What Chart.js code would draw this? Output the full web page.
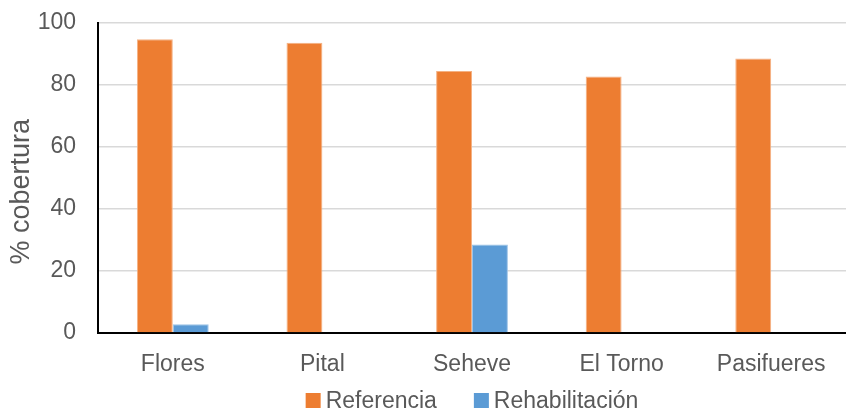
<!DOCTYPE html>
<html>
<head>
<meta charset="utf-8">
<script src="https://cdn.jsdelivr.net/npm/chart.js@4"></script>
<style>
  html, body { margin: 0; padding: 0; background: #fff; }
  #wrap { width: 846px; height: 409px; }
</style>
</head>
<body>
<div id="wrap"><canvas id="c" width="846" height="409"></canvas></div>
<script>
const sites = ['Flores', 'Pital', 'Seheve', 'El Torno', 'Pasifueres'];
const referencia = [94.6, 93.5, 84.4, 82.6, 88.4];
const rehabilitacion = [2.8, 0, 28.5, 0, 0];
const yTicks = [0, 20, 40, 60, 80, 100];
const yTitle = '% cobertura';

const FONT = '"Liberation Sans", Arial, sans-serif';
const GREY = '#595959';

// Legend row under the x labels and the rotated y-axis title, centred on the plot area
const sideText = {
  id: 'sideText',
  afterDraw(chart) {
    const { ctx, chartArea } = chart;
    ctx.save();
    ctx.fillStyle = GREY;
    ctx.font = '23px ' + FONT;
    ctx.textBaseline = 'alphabetic';
    const box = 15, gapText = 5, gapItem = 37;
    const items = chart.data.datasets.map(ds => ({ label: ds.label, color: ds.backgroundColor, w: ctx.measureText(ds.label).width }));
    const total = items.reduce((s, it) => s + box + gapText + it.w, 0) + gapItem * (items.length - 1);
    let x = (chartArea.left + chartArea.right) / 2 - total / 2;
    const baseY = 408;
    items.forEach(it => {
      ctx.fillStyle = it.color;
      ctx.fillRect(x, baseY - box, box, box);
      x += box + gapText;
      ctx.fillStyle = GREY;
      ctx.textAlign = 'left';
      ctx.fillText(it.label, x, baseY);
      x += it.w + gapItem;
    });

    ctx.font = '27px ' + FONT;
    ctx.translate(22, (chartArea.top + chartArea.bottom) / 2 + 14);
    ctx.rotate(-Math.PI / 2);
    ctx.textAlign = 'center';
    ctx.textBaseline = 'middle';
    ctx.fillText(yTitle, 0, 0);
    ctx.restore();
  }
};

new Chart(document.getElementById('c'), {
  type: 'bar',
  data: {
    labels: sites,
    datasets: [
      { label: 'Referencia', data: referencia, backgroundColor: '#ed7d31',
        borderColor: '#f4b183', borderWidth: {top: 1, left: 1, right: 1, bottom: 0},
        categoryPercentage: 0.48, barPercentage: 1.0 },
      { label: 'Rehabilitación', data: rehabilitacion, backgroundColor: '#5b9bd5',
        borderColor: '#9dc3e6', borderWidth: {top: 1, left: 1, right: 1, bottom: 0},
        categoryPercentage: 0.48, barPercentage: 1.0 }
    ]
  },
  options: {
    responsive: false,
    animation: false,
    layout: { padding: { left: 0, right: 0, top: 22.5, bottom: 28 } },
    plugins: {
      legend: { display: false },
      tooltip: { enabled: false }
    },
    scales: {
      x: {
        grid: { display: false, drawTicks: false },
        border: { color: '#000', width: 2 },
        ticks: { font: { family: FONT, size: 23 }, color: GREY, padding: 18 },
        afterFit: (axis) => { axis.height = 48; axis.paddingLeft = 0; axis.paddingRight = 0; }
      },
      y: {
        min: 0, max: 100,
        afterBuildTicks: (axis) => { axis.ticks = yTicks.map(v => ({ value: v })); },
        grid: { color: '#d9d9d9', lineWidth: 1.5, drawTicks: false },
        border: { color: '#000', width: 2 },
        ticks: { font: { family: FONT, size: 23 }, color: GREY, padding: 22 },
        afterFit: (axis) => { axis.width = 98; axis.paddingTop = 0; axis.paddingBottom = 0; }
      }
    }
  },
  plugins: [sideText]
});
</script>
</body>
</html>
